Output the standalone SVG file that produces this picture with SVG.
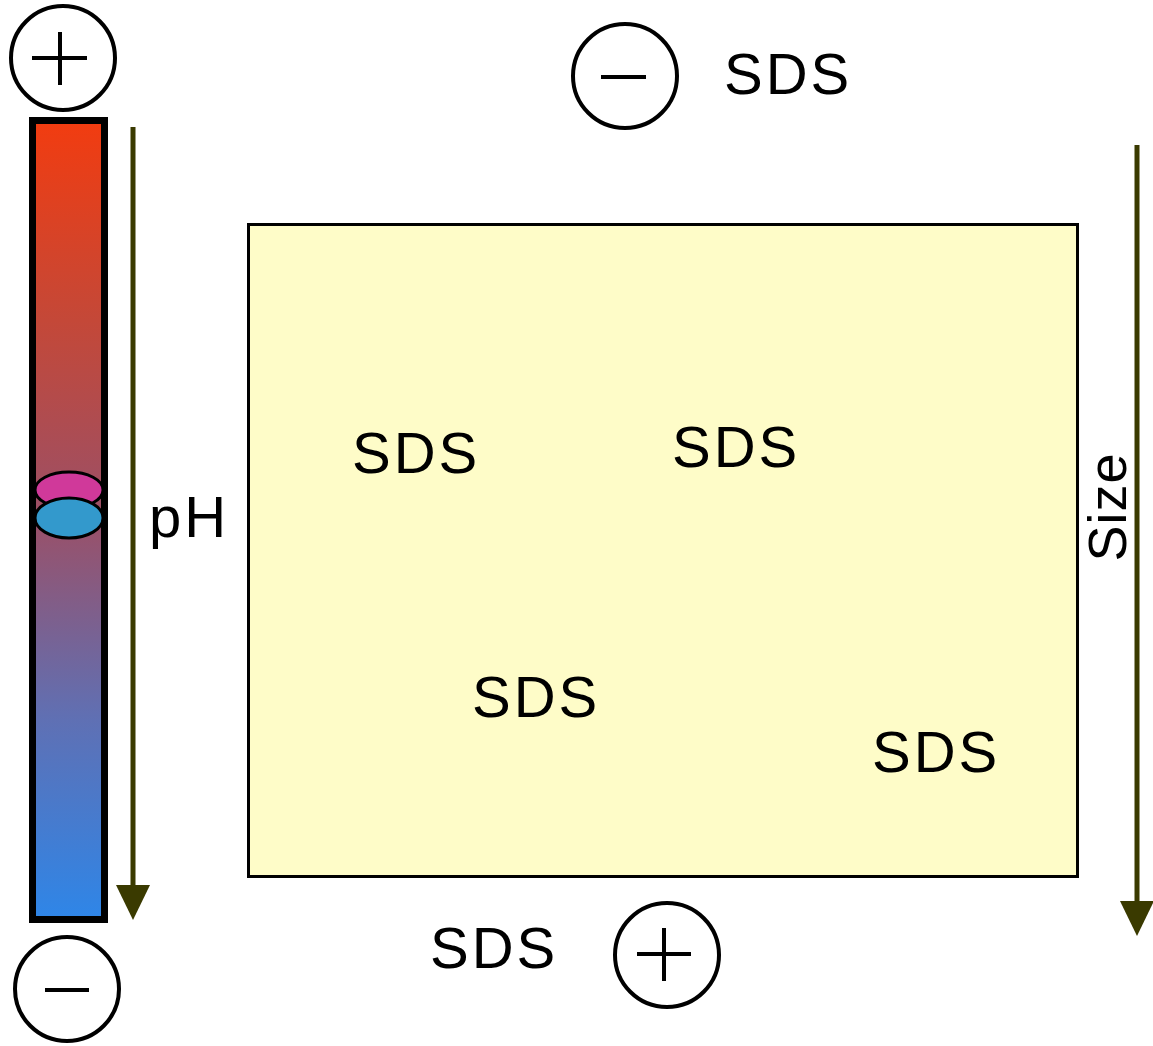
<svg xmlns="http://www.w3.org/2000/svg" width="1153" height="1046" viewBox="0 0 1153 1046">
<defs>
<linearGradient id="strip" x1="0" y1="0" x2="0" y2="1">
<stop offset="0" stop-color="#f23c10"/>
<stop offset="0.25" stop-color="#c44838"/>
<stop offset="0.5" stop-color="#9a5068"/>
<stop offset="0.75" stop-color="#5f70b4"/>
<stop offset="1" stop-color="#2e86e8"/>
</linearGradient>
</defs>
<style>
.circ{fill:#fff;stroke:#000;stroke-width:4}
.sign{stroke:#000;stroke-width:4;fill:none}
.lbl{font-family:"Liberation Sans",Arial,sans-serif;font-size:58px;letter-spacing:3px;fill:#000}
.arr{stroke:#3a3a00;stroke-width:5;fill:none}
.head{fill:#3a3a00}
</style>
<rect width="1153" height="1046" fill="#fff"/>
<g id="connectors">
<line class="arr" x1="133" y1="127" x2="133" y2="888"/>
<polygon class="head" points="116,885 150,885 133,920"/>
<line class="arr" x1="1137" y1="145" x2="1137" y2="904"/>
<polygon class="head" points="1120,901 1154,901 1137,936"/>
</g>
<g id="plus-top">
<circle class="circ" cx="63" cy="58" r="52"/>
<path class="sign" d="M32,58 H87 M60,32 V85"/>
</g>
<g id="strip-node">
<rect x="32.5" y="120.5" width="72" height="799" fill="url(#strip)" stroke="#000" stroke-width="7"/>
<ellipse cx="69" cy="490" rx="34" ry="18" fill="#d0399a" stroke="#000" stroke-width="3"/>
<ellipse cx="69" cy="518" rx="34" ry="20" fill="#3399cc" stroke="#000" stroke-width="3"/>
</g>
<g id="minus-bottom-left">
<circle class="circ" cx="67" cy="989" r="52"/>
<path class="sign" d="M45,990 H89"/>
</g>
<g id="ph-label"><text class="lbl" x="149" y="537">pH</text></g>
<g id="minus-top">
<circle class="circ" cx="625" cy="76" r="52"/>
<path class="sign" d="M601,77 H646"/>
</g>
<g id="sds-top"><text class="lbl" x="724" y="94">SDS</text></g>
<g id="gel">
<rect x="248.5" y="224.5" width="829" height="652" fill="#fefcc8" stroke="#000" stroke-width="3"/>
<text class="lbl" x="352" y="473">SDS</text>
<text class="lbl" x="672" y="467">SDS</text>
<text class="lbl" x="472" y="717">SDS</text>
<text class="lbl" x="872" y="772">SDS</text>
</g>
<g id="sds-bottom"><text class="lbl" x="430" y="968">SDS</text></g>
<g id="plus-bottom">
<circle class="circ" cx="667" cy="955" r="52"/>
<path class="sign" d="M637,954 H691 M664,928 V981"/>
</g>
<g id="size-label"><text class="lbl" transform="translate(1126,507) rotate(-90)" text-anchor="middle" style="font-size:54px;letter-spacing:1px">Size</text></g>
</svg>
